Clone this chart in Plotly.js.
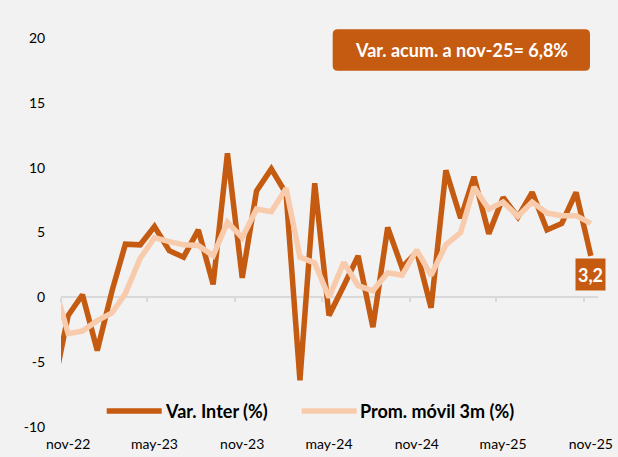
<!DOCTYPE html>
<html>
<head>
<meta charset="utf-8">
<script src="https://cdn.plot.ly/plotly-3.0.1.min.js"></script>
<style>
  html, body { margin: 0; padding: 0; background: #f2f2f2; }
  #chart { width: 618px; height: 457px; }
</style>
</head>
<body>
<div id="chart"></div>
<script>
// Monthly points (mid-month), oct-22 is partly outside the axis range
const dates = [
  '2022-10-16','2022-11-16','2022-12-16','2023-01-16','2023-02-16','2023-03-16','2023-04-16',
  '2023-05-16','2023-06-16','2023-07-16','2023-08-16','2023-09-16','2023-10-16',
  '2023-11-16','2023-12-16','2024-01-16','2024-02-16','2024-03-16','2024-04-16',
  '2024-05-16','2024-06-16','2024-07-16','2024-08-16','2024-09-16','2024-10-16',
  '2024-11-16','2024-12-16','2025-01-16','2025-02-16','2025-03-16','2025-04-16',
  '2025-05-16','2025-06-16','2025-07-16','2025-08-16','2025-09-16','2025-10-16',
  '2025-11-16'
];
const varInter = [
  -7.0, -1.4, 0.2, -4.1, 0.5, 4.1, 4.05,
  5.45, 3.6, 3.1, 5.2, 1.0, 11.1,
  1.5, 8.2, 9.9, 8.0, -6.4, 8.8,
  -1.4, 0.9, 3.2, -2.3, 5.4, 2.3,
  3.5, -0.8, 9.8, 6.1, 9.3, 4.9,
  7.7, 6.2, 8.1, 5.2, 5.7, 8.1,
  3.2
];
const promMovil = [
  1.2, -2.8, -2.6, -1.8, -1.2, 0.3, 3.0,
  4.6, 4.3, 4.05, 4.0, 3.2, 5.8,
  4.6, 6.8, 6.6, 8.4, 3.1, 2.65,
  0.0, 2.7, 0.9, 0.5, 1.9, 1.7,
  3.65, 1.7, 4.05, 5.0, 8.5, 6.8,
  7.35, 6.25, 7.35, 6.5, 6.3, 6.3,
  5.7
];
const seriesNames = ['Var. Inter (%)', 'Prom. móvil 3m (%)'];
const xTickVals = ['2022-11-16','2023-05-16','2023-11-16','2024-05-16','2024-11-16','2025-05-16','2025-11-16'];
const xTickText = ['nov-22','may-23','nov-23','may-24','nov-24','may-25','nov-25'];
const yTickVals = [-10, -5, 0, 5, 10, 15, 20];
const yTickText = ['-10', '-5', '0', '5', '10', '15', '20'];
const acumText = 'Var. acum. a nov-25= 6,8%';

const DARK = '#c55a11';
const LIGHT = '#f8cbad';
const COLORS = [DARK, LIGHT];
const FONT = 'Lato, "Open Sans", sans-serif';

// layout geometry helpers (pixels -> paper)
const W = 618, H = 457;
const M = { l: 61, r: 20, t: 38, b: 30 };
const PW = W - M.l - M.r, PH = H - M.t - M.b;
const px = x => (x - M.l) / PW;
const py = y => (H - M.b - y) / PH;

function roundRect(x0, y0, x1, y1, r) {
  const rx = r / PW, ry = r / PH;
  const X0 = px(x0), X1 = px(x1), YT = py(y0), YB = py(y1);
  return `M${X0 + rx},${YT} L${X1 - rx},${YT} Q${X1},${YT} ${X1},${YT - ry} ` +
         `L${X1},${YB + ry} Q${X1},${YB} ${X1 - rx},${YB} ` +
         `L${X0 + rx},${YB} Q${X0},${YB} ${X0},${YB + ry} ` +
         `L${X0},${YT - ry} Q${X0},${YT} ${X0 + rx},${YT} Z`;
}

const last = dates.length - 1;

const traces = [
  {
    x: dates, y: varInter, name: seriesNames[0], type: 'scatter', mode: 'lines',
    line: { color: DARK, width: 5.5 }, hoverinfo: 'skip', showlegend: false
  },
  {
    x: dates, y: promMovil, name: seriesNames[1], type: 'scatter', mode: 'lines',
    line: { color: LIGHT, width: 5.5 }, hoverinfo: 'skip', showlegend: false
  },
  {
    x: [], y: [], xaxis: 'x2', yaxis: 'y', showlegend: false, hoverinfo: 'skip',
    type: 'scatter', mode: 'lines'
  }
];

// legend (drawn as line samples + labels inside the plot)
const legendItems = [
  { x0: 106.7, x1: 161.7, tx: 163 },
  { x0: 301.7, x1: 356.7, tx: 358 }
];
const legendY = 411;

const shapes = [
  {
    type: 'path', xref: 'paper', yref: 'paper',
    path: roundRect(332.7, 29.3, 590, 70.7, 5),
    fillcolor: DARK, line: { width: 0 }, layer: 'above'
  }
];
const annotations = [
  {
    xref: 'paper', yref: 'paper', x: px(461.4), y: py(50), xanchor: 'center', yanchor: 'middle',
    text: acumText, showarrow: false,
    font: { family: FONT, size: 18, color: '#ffffff', weight: 'bold' }
  },
  {
    x: dates[last], y: varInter[last], xref: 'x', yref: 'y',
    xanchor: 'center', yanchor: 'top', yshift: -2,
    text: varInter[last].toFixed(1).replace('.', ','), showarrow: false,
    bgcolor: DARK, width: 25, height: 27, borderpad: 2,
    font: { family: FONT, size: 18, color: '#ffffff', weight: 'bold' }
  }
];
legendItems.forEach((it, i) => {
  shapes.push({
    type: 'line', xref: 'paper', yref: 'paper',
    x0: px(it.x0), x1: px(it.x1), y0: py(legendY), y1: py(legendY),
    line: { color: COLORS[i], width: 5.5 }, layer: 'above'
  });
  annotations.push({
    xref: 'paper', yref: 'paper', x: px(it.tx), y: py(legendY),
    xanchor: 'left', yanchor: 'middle', showarrow: false,
    text: seriesNames[i],
    font: { family: FONT, size: 18, color: '#000000', weight: 'bold' }
  });
});

const layout = {
  width: W, height: H,
  margin: M,
  paper_bgcolor: '#f2f2f2',
  plot_bgcolor: '#f2f2f2',
  font: { family: FONT, size: 14, color: '#000000' },
  showlegend: false,
  xaxis: {
    type: 'date', range: ['2022-11-01', '2025-12-01'],
    tickmode: 'array', tickvals: xTickVals, ticktext: xTickText,
    ticks: 'outside', ticklen: 4, tickcolor: 'rgba(0,0,0,0)',
    showgrid: false, zeroline: false, showline: false,
    tickfont: { family: FONT, size: 14, color: '#000000' },
    fixedrange: true
  },
  xaxis2: {
    type: 'date', range: ['2022-11-01', '2025-12-01'],
    overlaying: 'x', anchor: 'free', position: 1 / 3, side: 'bottom',
    tickmode: 'linear', tick0: '2022-11-01', dtick: 'M6',
    ticks: 'outside', ticklen: 4, tickwidth: 2, tickcolor: '#d9d9d9',
    showline: true, linecolor: '#d9d9d9', linewidth: 2,
    showticklabels: false, showgrid: false, zeroline: false,
    layer: 'below traces', fixedrange: true
  },
  yaxis: {
    range: [-10, 20], tickmode: 'array', tickvals: yTickVals, ticktext: yTickText,
    ticks: 'outside', ticklen: 12, tickcolor: 'rgba(0,0,0,0)',
    showgrid: false, zeroline: false, showline: false,
    tickfont: { family: FONT, size: 14, color: '#000000' },
    fixedrange: true
  },
  shapes: shapes,
  annotations: annotations
};

Plotly.newPlot('chart', traces, layout, { displayModeBar: false, staticPlot: true });
</script>
</body>
</html>
